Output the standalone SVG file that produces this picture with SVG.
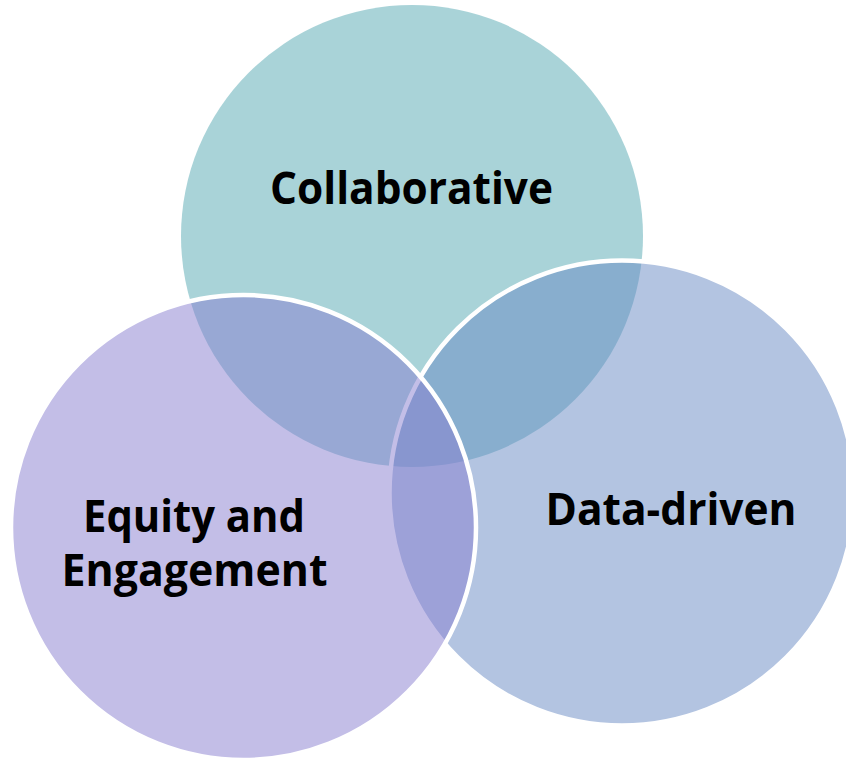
<svg xmlns="http://www.w3.org/2000/svg" width="846" height="759" viewBox="0 0 846 759">
  <style>
    .c { fill-opacity: 0.5; }
    .s { stroke: #FFFFFF; stroke-width: 4.5; }
    .t { font-family: "Open Sans", "Noto Sans", "DejaVu Sans", sans-serif; font-weight: 700; font-size: 44px; fill: #000000; text-anchor: middle; }
  </style>
  <rect x="0" y="0" width="846" height="759" fill="#FFFFFF"/>
  <g id="collaborative">
    <circle class="c" cx="412" cy="236" r="231" fill="#53A7B1"/>
    <text class="t" x="411.5" y="204" textLength="283" lengthAdjust="spacingAndGlyphs">Collaborative</text>
  </g>
  <g id="data-driven">
    <circle class="c s" cx="622" cy="493" r="232.5" fill="#6789C3"/>
    <text class="t" x="671" y="525" textLength="251" lengthAdjust="spacingAndGlyphs">Data-driven</text>
  </g>
  <g id="equity-engagement">
    <circle class="c s" cx="243.5" cy="527.5" r="232.5" fill="#877DCF"/>
    <text class="t" x="194" y="532" textLength="222" lengthAdjust="spacingAndGlyphs">Equity and</text>
    <text class="t" x="194.5" y="586" textLength="266" lengthAdjust="spacingAndGlyphs">Engagement</text>
  </g>
</svg>
